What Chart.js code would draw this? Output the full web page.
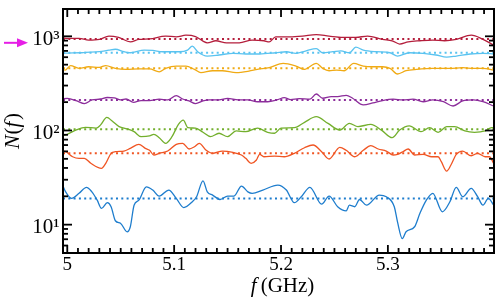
<!DOCTYPE html>
<html><head><meta charset="utf-8">
<script src="https://cdn.jsdelivr.net/npm/chart.js@4"></script>
<style>html,body{margin:0;padding:0;background:#fff;}canvas{display:block;}</style>
</head><body>
<div style="width:502px;height:302px"><canvas id="c" width="502" height="302"></canvas></div>
<script>
// ---- data ----
const fRange = [4.996, 5.3993];
const nRange = [5, 1950];
const xMajorTicks = [5.0, 5.1, 5.2, 5.3];
const xTickLabels = ['5', '5.1', '5.2', '5.3'];
const xMinorStep = 0.01;
const yMajorTicks = [10, 100, 1000];
const yTickLabels = ['10\u00B9', '10\u00B2', '10\u00B3'];
const yMinorMultipliers = [2, 3, 4, 5, 6, 7, 8, 9];
const seriesColors = ['#b41e3c', '#5ac3f0', '#f0aa14', '#8c2d9b', '#73af2d', '#f05523', '#1e7dcd'];
const meanLevels = [935, 669, 457, 211, 103, 57.2, 19.0];

const darkRed = [[4.995,974],[5.0,951],[5.011,951],[5.020,912],[5.030,928],[5.039,1005],[5.048,974],[5.059,874],[5.067,928],[5.077,940],[5.092,1005],[5.102,988],[5.111,1027],[5.120,993],[5.127,889],[5.131,853],[5.139,897],[5.149,853],[5.161,853],[5.173,912],[5.184,897],[5.189,874],[5.195,988],[5.208,988],[5.220,1005],[5.233,1044],[5.245,1005],[5.258,974],[5.270,974],[5.281,1005],[5.295,928],[5.304,897],[5.311,828],[5.319,874],[5.330,897],[5.342,912],[5.353,897],[5.364,928],[5.378,1027],[5.389,928],[5.399,808]];
const lightBlue = [[4.995,660],[5.0,664],[5.0125,669],[5.017,675],[5.030,686],[5.039,714],[5.045,729],[5.053,686],[5.059,669],[5.072,714],[5.080,709],[5.089,686],[5.105,686],[5.1125,714],[5.117,787],[5.122,686],[5.131,617],[5.142,633],[5.155,660],[5.167,649],[5.180,649],[5.195,669],[5.205,686],[5.214,660],[5.2235,702],[5.233,741],[5.239,669],[5.2485,686],[5.256,702],[5.264,669],[5.270,766],[5.277,714],[5.289,686],[5.302,669],[5.309,617],[5.320,669],[5.333,660],[5.345,633],[5.355,600],[5.364,617],[5.377,649],[5.389,660],[5.399,649]];
const orange = [[4.995,446],[4.998,438],[5.003,489],[5.011,457],[5.020,475],[5.030,468],[5.036,489],[5.045,457],[5.055,446],[5.067,450],[5.077,450],[5.086,420],[5.092,457],[5.102,483],[5.111,483],[5.119,446],[5.125,412],[5.136,431],[5.145,431],[5.158,412],[5.170,427],[5.178,446],[5.189,464],[5.202,516],[5.214,483],[5.222,446],[5.233,516],[5.239,457],[5.245,431],[5.252,438],[5.259,431],[5.268,516],[5.277,483],[5.286,475],[5.295,475],[5.302,457],[5.309,398],[5.317,431],[5.327,446],[5.342,457],[5.358,457],[5.370,464],[5.380,457],[5.389,457],[5.399,438]];
const purple = [[4.995,216],[5.0,219],[5.009,206],[5.016,193],[5.023,211],[5.031,216],[5.0375,224],[5.044,222],[5.050,211],[5.055,216],[5.062,199],[5.069,208],[5.077,208],[5.086,215],[5.094,211],[5.102,234],[5.108,216],[5.114,206],[5.120,193],[5.127,206],[5.133,211],[5.142,211],[5.150,219],[5.160,211],[5.169,211],[5.178,202],[5.1875,202],[5.197,213],[5.203,223],[5.209,213],[5.217,218],[5.227,215],[5.233,244],[5.239,220],[5.247,229],[5.253,229],[5.261,236],[5.267,220],[5.277,187],[5.286,196],[5.295,208],[5.305,215],[5.314,211],[5.3235,215],[5.333,202],[5.342,211],[5.352,202],[5.361,182],[5.370,206],[5.380,211],[5.389,202],[5.399,182]];
const green = [[4.995,88.1],[5.0,91.1],[5.008,101],[5.017,108],[5.027,106],[5.031,114],[5.037,138],[5.042,126],[5.0485,110],[5.056,104],[5.0625,97.1],[5.069,86.0],[5.077,87.4],[5.081,91.1],[5.086,83.8],[5.092,73.1],[5.098,86.0],[5.104,116],[5.1085,129],[5.113,107],[5.120,106],[5.127,95.7],[5.134,86.0],[5.142,93.4],[5.150,86.0],[5.158,98.9],[5.167,97.1],[5.178,106],[5.1875,95.7],[5.194,93.4],[5.200,106],[5.2125,107],[5.222,122],[5.233,140],[5.244,119],[5.255,101],[5.264,119],[5.272,110],[5.284,116],[5.294,101],[5.304,83.8],[5.311,101],[5.320,112],[5.331,97.1],[5.339,107],[5.347,95.7],[5.355,110],[5.3625,110],[5.372,98.9],[5.381,95.7],[5.391,98.9],[5.397,107],[5.399,107]];
const orangeRed = [[4.995,60.5],[4.9985,59.5],[5.005,52.6],[5.011,50.6],[5.016,50.6],[5.022,44.8],[5.032,39.6],[5.036,44.8],[5.041,57.2],[5.045,59.5],[5.053,60.5],[5.059,64.6],[5.067,71.3],[5.073,64.6],[5.077,61.6],[5.081,54.9],[5.086,57.2],[5.094,60.5],[5.102,71.3],[5.108,73.0],[5.114,63.6],[5.119,67.2],[5.1235,73.0],[5.130,61.6],[5.136,57.2],[5.145,60.5],[5.155,58.6],[5.163,54.9],[5.167,50.6],[5.172,44.8],[5.177,48.6],[5.180,55.8],[5.184,52.6],[5.194,53.5],[5.203,52.6],[5.2125,57.2],[5.222,65.6],[5.230,70.1],[5.238,59.5],[5.245,49.8],[5.255,66.2],[5.261,61.6],[5.269,52.6],[5.277,61.6],[5.284,68.9],[5.291,63.6],[5.2985,60.5],[5.305,54.9],[5.309,55.8],[5.314,59.5],[5.319,63.6],[5.325,54.9],[5.333,55.8],[5.341,52.6],[5.347,52.6],[5.350,46.6],[5.355,37.1],[5.359,43.0],[5.364,55.8],[5.370,60.5],[5.378,53.9],[5.384,57.2],[5.391,52.6],[5.395,52.6],[5.399,44.8]];
const blue = [[4.995,27.4],[4.9985,22.3],[5.004,19.0],[5.011,21.5],[5.018,24.9],[5.023,22.3],[5.028,18.2],[5.032,14.9],[5.0375,17.1],[5.041,15.5],[5.045,11.0],[5.050,10.3],[5.056,8.4],[5.059,9.5],[5.0625,16.1],[5.067,18.2],[5.074,25.2],[5.080,23.3],[5.086,20.1],[5.095,23.3],[5.102,19.0],[5.109,15.2],[5.117,17.5],[5.121,19.8],[5.127,29.2],[5.131,22.3],[5.136,20.6],[5.143,18.5],[5.150,20.1],[5.156,20.1],[5.163,25.7],[5.169,22.3],[5.173,21.5],[5.183,23.3],[5.197,26.3],[5.205,23.3],[5.2125,17.1],[5.219,19.8],[5.227,24.9],[5.238,16.5],[5.245,20.1],[5.253,15.5],[5.261,14.0],[5.264,16.1],[5.269,15.5],[5.2735,18.5],[5.280,16.1],[5.292,20.6],[5.2985,19.8],[5.306,15.5],[5.309,10.7],[5.3135,7.1],[5.317,8.4],[5.325,9.5],[5.330,13.2],[5.336,18.2],[5.342,21.5],[5.351,13.7],[5.358,17.5],[5.364,24.9],[5.370,19.8],[5.378,24.3],[5.384,19.8],[5.389,16.1],[5.394,19.0],[5.399,16.1]];

const seriesData = [darkRed, lightBlue, orange, purple, green, orangeRed, blue];

// ---- build datasets ----
const datasets = [];
seriesData.forEach((s, i) => {
  datasets.push({
    data: s.map(p => ({x: p[0], y: p[1]})),
    borderColor: seriesColors[i], borderWidth: 1.3,
    pointRadius: 0, cubicInterpolationMode: 'monotone', fill: false
  });
  datasets.push({
    data: [{x: fRange[0], y: meanLevels[i]}, {x: fRange[1], y: meanLevels[i]}],
    borderColor: seriesColors[i], borderWidth: 2, borderDash: [2, 3.3],
    pointRadius: 0, tension: 0, fill: false
  });
});

const SERIF = "'Liberation Serif', 'DejaVu Serif', serif";

const framePlugin = {
  id: 'framePlugin',
  afterDraw(chart) {
    const ctx = chart.ctx;
    const a = chart.chartArea;
    const xs = chart.scales.x, ys = chart.scales.y;
    ctx.save();
    ctx.setLineDash([]);
    ctx.globalAlpha = 1;
    ctx.fillStyle = '#000';
    const TW = 1.8;
    // x ticks: major every 0.1, minor every 0.01
    for (let i = 0; i <= 40; i++) {
      const v = xMajorTicks[0] + i * xMinorStep;
      const px = xs.getPixelForValue(v);
      if (!(px > a.left + 1 && px < a.right - 1)) continue;
      const L = (i % 10 === 0) ? 8 : 5;
      ctx.fillRect(px - TW / 2, a.bottom - L, TW, L);
      ctx.fillRect(px - TW / 2, a.top, TW, L);
    }
    // y ticks (log)
    [1].concat(yMajorTicks).forEach(d => {
      [1].concat(yMinorMultipliers).forEach(k => {
        const v = k * d;
        if (v < nRange[0] || v > nRange[1]) return;
        const py = ys.getPixelForValue(v);
        if (!(py > a.top + 1 && py < a.bottom - 1)) return;
        const L = (k === 1) ? 9 : 5;
        ctx.fillRect(a.left, py - TW / 2, L, TW);
        ctx.fillRect(a.right - L, py - TW / 2, L, TW);
      });
    });
    ctx.strokeStyle = '#000';
    ctx.lineWidth = 2;
    ctx.strokeRect(a.left, a.top, a.right - a.left, a.bottom - a.top);

    // arrow pointing at the 10^3 label
    const ay = ys.getPixelForValue(1000) + 6.5;
    ctx.strokeStyle = '#e61ee6'; ctx.fillStyle = '#e61ee6';
    ctx.lineWidth = 2;
    ctx.beginPath(); ctx.moveTo(4, ay); ctx.lineTo(19, ay); ctx.stroke();
    ctx.beginPath(); ctx.moveTo(28, ay); ctx.lineTo(17, ay - 4.5); ctx.lineTo(17, ay + 4.5); ctx.closePath(); ctx.fill();

    // axis titles
    ctx.fillStyle = '#000';
    ctx.textBaseline = 'alphabetic';
    ctx.textAlign = 'left';
    const italic = 'italic 21px ' + SERIF, roman = '21px ' + SERIF;
    const cx = (a.left + a.right) / 2 + 4;
    ctx.font = italic; const wf = ctx.measureText('f').width;
    ctx.font = roman; const wr = ctx.measureText('\u2009(GHz)').width;
    const sx = cx - (wf + wr) / 2;
    ctx.font = italic; ctx.fillText('f', sx, 291.5);
    ctx.font = roman; ctx.fillText('\u2009(GHz)', sx + wf, 291.5);

    ctx.translate(19, (a.top + a.bottom) / 2);
    ctx.rotate(-Math.PI / 2);
    const parts = [['N', italic, 0.5], ['(', roman, 0], ['f', italic, 1.5], [')', roman, 0]];
    let tw = 0;
    parts.forEach(p => { ctx.font = p[1]; tw += ctx.measureText(p[0]).width + p[2]; });
    let tx = -tw / 2;
    parts.forEach(p => { ctx.font = p[1]; ctx.fillText(p[0], tx, 0); tx += ctx.measureText(p[0]).width + p[2]; });
    ctx.restore();
  }
};

new Chart(document.getElementById('c'), {
  type: 'line',
  data: { datasets },
  options: {
    responsive: false, animation: false, devicePixelRatio: 1,
    layout: { padding: { left: 0, right: 8, top: 9, bottom: 0 } },
    plugins: { legend: { display: false }, tooltip: { enabled: false } },
    scales: {
      x: {
        type: 'linear', min: fRange[0], max: fRange[1],
        grid: { display: false, drawTicks: false }, border: { display: false },
        afterBuildTicks: s => { s.ticks = xMajorTicks.map(v => ({ value: v })); },
        afterFit: s => { s.height = 49; s.paddingLeft = 0; s.paddingRight = 0; },
        ticks: {
          padding: 1, color: '#000', font: { family: SERIF, size: 19 },
          callback: (v) => { const i = xMajorTicks.findIndex(t => Math.abs(t - v) < 1e-6); return i >= 0 ? xTickLabels[i] : ''; }
        }
      },
      y: {
        type: 'logarithmic', min: nRange[0], max: nRange[1],
        grid: { display: false, drawTicks: false }, border: { display: false },
        afterBuildTicks: s => { s.ticks = yMajorTicks.map(v => ({ value: v })); },
        afterFit: s => { s.width = 63; s.paddingTop = 0; s.paddingBottom = 0; },
        ticks: {
          padding: 3.5, labelOffset: 3, color: '#000', font: { family: SERIF, size: 21 },
          callback: (v) => { const i = yMajorTicks.findIndex(t => Math.abs(t - v) < 1e-6 * t); return i >= 0 ? yTickLabels[i] : ''; }
        }
      }
    }
  },
  plugins: [framePlugin]
});
</script>
</body></html>
